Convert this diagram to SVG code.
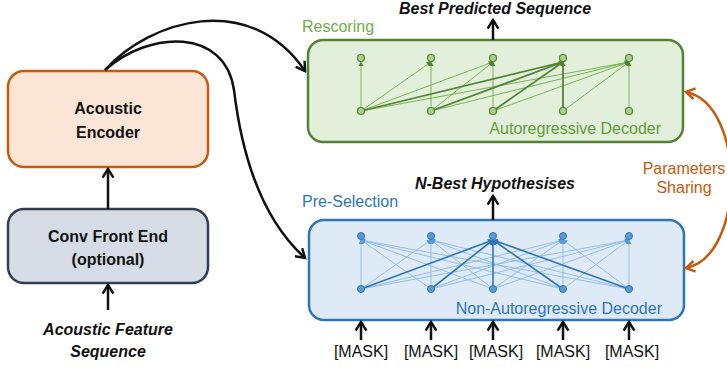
<svg xmlns="http://www.w3.org/2000/svg" width="727" height="367" viewBox="0 0 727 367">
<style>
.lbl{font-family:"Liberation Sans",Arial,sans-serif;font-size:16px;}
.b{font-weight:bold;fill:#111;}
.bi{font-weight:bold;font-style:italic;fill:#111;}
.blk{stroke:#111;stroke-width:2.5;fill:none;}
.gthin{stroke:#70AD47;stroke-width:0.9;fill:none;}
.gthick{stroke:#548235;stroke-width:1.8;fill:none;}
.bthin{stroke:#8FBAE3;stroke-width:0.9;fill:none;}
.bthick{stroke:#2E75B6;stroke-width:1.6;fill:none;}
.gn{fill:#A9D18E;stroke:#548235;stroke-width:1.2;}
.bn{fill:#5B9BD5;stroke:#2E75B6;stroke-width:1;}
</style>
<defs>
<marker id="arr" viewBox="0 0 12 12" refX="10" refY="6" markerWidth="13" markerHeight="13" markerUnits="userSpaceOnUse" orient="auto">
<path d="M2,1 L10,6 L2,11" fill="none" stroke="#111" stroke-width="2.3"/>
</marker>
<marker id="arrO" viewBox="0 0 12 12" refX="10" refY="6" markerWidth="13" markerHeight="13" markerUnits="userSpaceOnUse" orient="auto-start-reverse">
<path d="M2,1 L10,6 L2,11" fill="none" stroke="#C55A11" stroke-width="2.3"/>
</marker>
<marker id="ag" viewBox="0 0 6 6" refX="5" refY="3" markerWidth="5" markerHeight="5" markerUnits="userSpaceOnUse" orient="auto">
<path d="M0,0 L6,3 L0,6 Z" fill="#548235"/>
</marker>
<marker id="ab" viewBox="0 0 6 6" refX="5" refY="3" markerWidth="5" markerHeight="5" markerUnits="userSpaceOnUse" orient="auto">
<path d="M0,0 L6,3 L0,6 Z" fill="#5B9BD5"/>
</marker>
<marker id="abk" viewBox="0 0 6 6" refX="5" refY="3" markerWidth="6" markerHeight="6" markerUnits="userSpaceOnUse" orient="auto">
<path d="M0,0 L6,3 L0,6 Z" fill="#2E75B6"/>
</marker>
</defs>
<rect width="727" height="367" fill="#fff"/>

<g id="encoder">
<rect x="8" y="71" width="200" height="96" rx="16" fill="#FBE5D6" stroke="#C55A11" stroke-width="2.5"/>
<text class="lbl b" x="108" y="114" text-anchor="middle">Acoustic</text>
<text class="lbl b" x="108" y="138" text-anchor="middle">Encoder</text>
</g>

<g id="conv">
<rect x="8" y="209" width="200" height="74" rx="16" fill="#D6DCE5" stroke="#333F50" stroke-width="2.5"/>
<text class="lbl b" x="108" y="242" text-anchor="middle">Conv Front End</text>
<text class="lbl b" x="108" y="265" text-anchor="middle">(optional)</text>
</g>

<g id="input">
<text class="lbl bi" x="108" y="335" text-anchor="middle">Acoustic Feature</text>
<text class="lbl bi" x="108" y="357" text-anchor="middle">Sequence</text>
</g>

<g id="ar-decoder">
<rect x="308" y="40" width="375" height="102" rx="15" fill="#E2EFDA" stroke="#548235" stroke-width="2.5"/>
<text class="lbl" x="302" y="32" fill="#70AD47" font-size="16.5">Rescoring</text>
<text class="lbl" x="661" y="134" fill="#629C3E" text-anchor="end">Autoregressive Decoder</text>
<g id="ar-edges">
<line class="gthin" x1="361" y1="111" x2="361" y2="62" marker-end="url(#ag)"/>
<line class="gthin" x1="361" y1="111" x2="431" y2="62" marker-end="url(#ag)"/>
<line class="gthin" x1="361" y1="111" x2="493" y2="62" marker-end="url(#ag)"/>
<line class="gthin" x1="361" y1="111" x2="629" y2="62" marker-end="url(#ag)"/>
<line class="gthin" x1="431" y1="111" x2="431" y2="62" marker-end="url(#ag)"/>
<line class="gthin" x1="431" y1="111" x2="493" y2="62" marker-end="url(#ag)"/>
<line class="gthin" x1="431" y1="111" x2="629" y2="62" marker-end="url(#ag)"/>
<line class="gthin" x1="493" y1="111" x2="493" y2="62" marker-end="url(#ag)"/>
<line class="gthin" x1="493" y1="111" x2="629" y2="62" marker-end="url(#ag)"/>
<line class="gthin" x1="563" y1="111" x2="629" y2="62" marker-end="url(#ag)"/>
<line class="gthin" x1="629" y1="111" x2="629" y2="62" marker-end="url(#ag)"/>
<line class="gthick" x1="361" y1="111" x2="563" y2="62" marker-end="url(#ag)"/>
<line class="gthick" x1="431" y1="111" x2="563" y2="62" marker-end="url(#ag)"/>
<line class="gthick" x1="493" y1="111" x2="563" y2="62" marker-end="url(#ag)"/>
<line class="gthick" x1="563" y1="111" x2="563" y2="62" marker-end="url(#ag)"/>
</g>
<g id="ar-nodes">
<circle class="gn" cx="361" cy="58" r="3.5"/><circle class="gn" cx="431" cy="58" r="3.5"/><circle class="gn" cx="493" cy="58" r="3.5"/><circle class="gn" cx="563" cy="58" r="3.5"/><circle class="gn" cx="629" cy="58" r="3.5"/>
<circle class="gn" cx="361" cy="111" r="3.5"/><circle class="gn" cx="431" cy="111" r="3.5"/><circle class="gn" cx="493" cy="111" r="3.5"/><circle class="gn" cx="563" cy="111" r="3.5"/><circle class="gn" cx="629" cy="111" r="3.5"/>
</g>
</g>

<g id="nar-decoder">
<rect x="309" y="220" width="375" height="100" rx="15" fill="#DEEBF7" stroke="#2E75B6" stroke-width="2.5"/>
<text class="lbl" x="302" y="207" fill="#2E75B6" font-size="16.5">Pre-Selection</text>
<text class="lbl" x="662" y="314" fill="#2E75B6" text-anchor="end">Non-Autoregressive Decoder</text>
<g id="nar-edges">
<line class="bthin" x1="361" y1="289" x2="361" y2="240" marker-end="url(#ab)"/>
<line class="bthin" x1="361" y1="289" x2="431" y2="240" marker-end="url(#ab)"/>
<line class="bthin" x1="361" y1="289" x2="563" y2="240" marker-end="url(#ab)"/>
<line class="bthin" x1="361" y1="289" x2="629" y2="240" marker-end="url(#ab)"/>
<line class="bthin" x1="431" y1="289" x2="361" y2="240" marker-end="url(#ab)"/>
<line class="bthin" x1="431" y1="289" x2="431" y2="240" marker-end="url(#ab)"/>
<line class="bthin" x1="431" y1="289" x2="563" y2="240" marker-end="url(#ab)"/>
<line class="bthin" x1="431" y1="289" x2="629" y2="240" marker-end="url(#ab)"/>
<line class="bthin" x1="493" y1="289" x2="361" y2="240" marker-end="url(#ab)"/>
<line class="bthin" x1="493" y1="289" x2="431" y2="240" marker-end="url(#ab)"/>
<line class="bthin" x1="493" y1="289" x2="563" y2="240" marker-end="url(#ab)"/>
<line class="bthin" x1="493" y1="289" x2="629" y2="240" marker-end="url(#ab)"/>
<line class="bthin" x1="563" y1="289" x2="361" y2="240" marker-end="url(#ab)"/>
<line class="bthin" x1="563" y1="289" x2="431" y2="240" marker-end="url(#ab)"/>
<line class="bthin" x1="563" y1="289" x2="563" y2="240" marker-end="url(#ab)"/>
<line class="bthin" x1="563" y1="289" x2="629" y2="240" marker-end="url(#ab)"/>
<line class="bthin" x1="629" y1="289" x2="361" y2="240" marker-end="url(#ab)"/>
<line class="bthin" x1="629" y1="289" x2="431" y2="240" marker-end="url(#ab)"/>
<line class="bthin" x1="629" y1="289" x2="563" y2="240" marker-end="url(#ab)"/>
<line class="bthin" x1="629" y1="289" x2="629" y2="240" marker-end="url(#ab)"/>
<line class="bthick" x1="361" y1="289" x2="493" y2="240" marker-end="url(#abk)"/>
<line class="bthick" x1="431" y1="289" x2="493" y2="240" marker-end="url(#abk)"/>
<line class="bthick" x1="493" y1="289" x2="493" y2="240" marker-end="url(#abk)"/>
<line class="bthick" x1="563" y1="289" x2="493" y2="240" marker-end="url(#abk)"/>
<line class="bthick" x1="629" y1="289" x2="493" y2="240" marker-end="url(#abk)"/>
</g>
<g id="nar-nodes">
<circle class="bn" cx="361" cy="236" r="3.5"/><circle class="bn" cx="431" cy="236" r="3.5"/><circle class="bn" cx="493" cy="236" r="3.5"/><circle class="bn" cx="563" cy="236" r="3.5"/><circle class="bn" cx="629" cy="236" r="3.5"/>
<circle class="bn" cx="361" cy="289" r="3.5"/><circle class="bn" cx="431" cy="289" r="3.5"/><circle class="bn" cx="493" cy="289" r="3.5"/><circle class="bn" cx="563" cy="289" r="3.5"/><circle class="bn" cx="629" cy="289" r="3.5"/>
</g>
</g>

<g id="outputs">
<text class="lbl bi" x="495" y="14" text-anchor="middle">Best Predicted Sequence</text>
<text class="lbl bi" x="495" y="189" text-anchor="middle">N-Best Hypothesises</text>
</g>

<g id="masks">
<text class="lbl" x="361" y="357" text-anchor="middle" fill="#111">[MASK]</text>
<text class="lbl" x="431" y="357" text-anchor="middle" fill="#111">[MASK]</text>
<text class="lbl" x="496" y="357" text-anchor="middle" fill="#111">[MASK]</text>
<text class="lbl" x="563" y="357" text-anchor="middle" fill="#111">[MASK]</text>
<text class="lbl" x="632" y="357" text-anchor="middle" fill="#111">[MASK]</text>
</g>

<g id="sharing">
<text class="lbl" x="684" y="174" text-anchor="middle" fill="#C55A11" font-size="15.5">Parameters</text>
<text class="lbl" x="684" y="193" text-anchor="middle" fill="#C55A11" font-size="15.5">Sharing</text>
</g>

<g id="connectors">
<line class="blk" x1="108" y1="310" x2="108" y2="285" marker-end="url(#arr)"/>
<line class="blk" x1="108" y1="209" x2="108" y2="169" marker-end="url(#arr)"/>
<path class="blk" d="M105,70 C150,20 250,-10 305,71" marker-end="url(#arr)"/>
<path class="blk" d="M105,70 C150,30 225,28 234,90 C243,165 265,222 305,258" marker-end="url(#arr)"/>
<line class="blk" x1="493" y1="40" x2="493" y2="20" marker-end="url(#arr)"/>
<line class="blk" x1="493" y1="220" x2="493" y2="196" marker-end="url(#arr)"/>
<line class="blk" x1="361" y1="340" x2="361" y2="322" marker-end="url(#arr)"/>
<line class="blk" x1="431" y1="340" x2="431" y2="322" marker-end="url(#arr)"/>
<line class="blk" x1="493" y1="340" x2="493" y2="322" marker-end="url(#arr)"/>
<line class="blk" x1="563" y1="340" x2="563" y2="322" marker-end="url(#arr)"/>
<line class="blk" x1="629" y1="340" x2="629" y2="322" marker-end="url(#arr)"/>
<path d="M686,92 C746,104 746,256 686,268" fill="none" stroke="#C55A11" stroke-width="2.5" marker-start="url(#arrO)" marker-end="url(#arrO)"/>
</g>
</svg>
